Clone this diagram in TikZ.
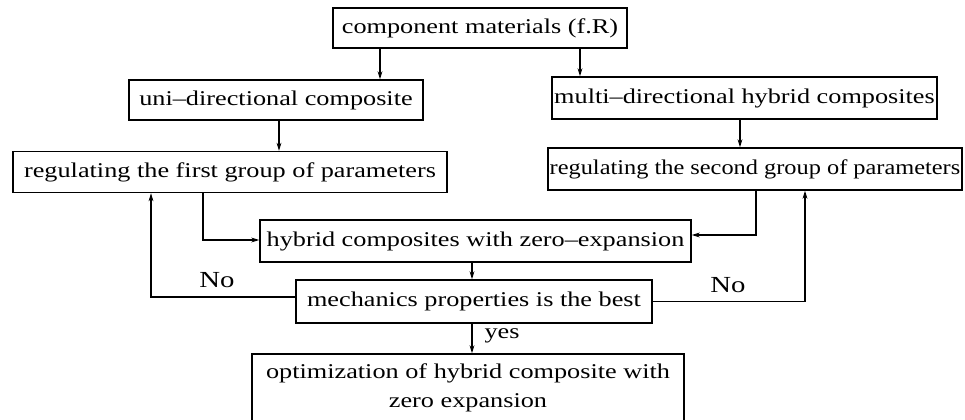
\documentclass[tikz,border=0pt]{standalone}
\usepackage{fontspec}
\setmainfont{Liberation Serif}[FakeStretch=1.25]
\newfontfamily\narrowserif{Liberation Serif}[FakeStretch=1.16]
\usetikzlibrary{arrows.meta}
\begin{document}
\begin{tikzpicture}[x=0.5pt,y=-0.5pt,
  box/.style={draw, line width=0.7pt, inner sep=0pt, font=\fontsize{10.5}{14.5}\selectfont},
  arr/.style={line width=0.7pt, -{Stealth[length=4pt,width=2.4pt]}},
  lbl/.style={font=\fontsize{10.5}{12}\selectfont, inner sep=0pt},
  nolbl/.style={font=\fontsize{11.5}{12}\selectfont, inner sep=0pt}]
\useasboundingbox[fill=white] (0,0) rectangle (965,419);
\node[box, minimum width=147pt, minimum height=20pt] (b1) at (480,28) {component materials (f.R)};
\node[box, minimum width=147pt, minimum height=20pt] (b2) at (276,100) {uni–directional composite};
\node[box, minimum width=192.5pt, minimum height=21pt] (b3) at (744.5,98) {multi–directional hybrid composites};
\node[box, minimum width=217pt, minimum height=20.5pt] (b4) at (230,172) {regulating the first group of parameters};
\node[box, minimum width=207pt, minimum height=21pt] (b5) at (755,169) {\narrowserif regulating the second group of parameters};
\node[box, minimum width=215.5pt, minimum height=21pt] (b6) at (475.5,241) {hybrid composites with zero–expansion};
\node[box, minimum width=178pt, minimum height=21.5pt] (b7) at (474,301.5) {mechanics properties is the best};
\node[box, minimum width=216pt, minimum height=34pt, align=center] (b8) at (468,388) {optimization of hybrid composite with\\zero expansion};
\draw[arr] ([xshift=-50pt]b1.south) -- ([xshift=-50pt]b1.south |- b2.north);
\draw[arr] ([xshift=50pt]b1.south) -- ([xshift=50pt]b1.south |- b3.north);
\draw[arr] ([xshift=1.5pt]b2.south) -- ([xshift=1.5pt]b2.south |- b4.north);
\draw[arr] ([xshift=-2.25pt]b3.south) -- ([xshift=-2.25pt]b3.south |- b5.north);
\draw[arr] ([xshift=-13.5pt]b4.south) |- ([yshift=0.5pt]b6.west);
\draw[arr] ([xshift=0.5pt]b5.south) |- ([yshift=3pt]b6.east);
\draw[arr] ([xshift=-1.75pt]b6.south) -- ([xshift=-1.75pt]b6.south |- b7.north);
\draw[arr] ([xshift=-1pt]b7.south) -- ([xshift=-1pt]b7.south |- b8.north);
\draw[arr] ([yshift=2.25pt]b7.west) -| ([xshift=-39.5pt]b4.south);
\draw[arr] (b7.east) -| ([xshift=25pt]b5.south);
\node[nolbl] (no1) at (217,280) {No};
\node[nolbl] (no2) at (728,285) {No};
\node[lbl] (yes) at (502,336) {yes};
\end{tikzpicture}
\end{document}
